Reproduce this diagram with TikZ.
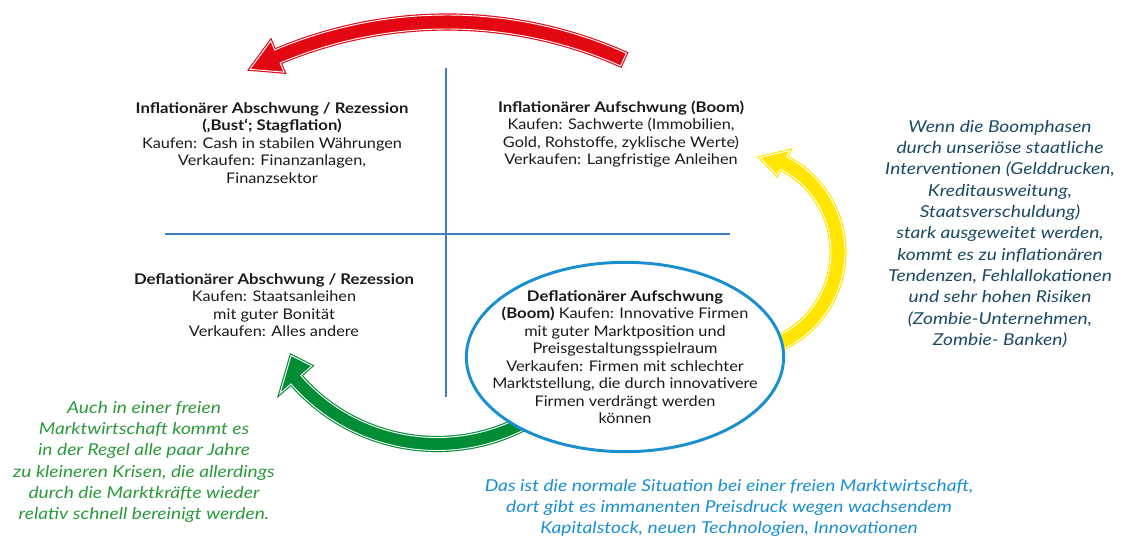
\documentclass[tikz,border=0pt]{standalone}
\usepackage{fontspec}
\setmainfont{Lato}[UprightFeatures={FakeStretch=1.11},BoldFeatures={FakeStretch=1.14},ItalicFeatures={FakeStretch=1.17}]
\usetikzlibrary{calc,shapes.geometric}
\definecolor{cRed}{HTML}{E30613}
\definecolor{cYel}{HTML}{FFE500}
\definecolor{cGrn}{HTML}{008D36}
\definecolor{cEll}{HTML}{1A8FD0}
\definecolor{cAxis}{HTML}{3F7FC1}
\definecolor{cTeal}{HTML}{1B4A64}
\definecolor{cGtxt}{HTML}{2A9A3C}
\definecolor{cBtxt}{HTML}{1A8FD3}
\definecolor{cTxt}{HTML}{1A1A1A}
\begin{document}
\begin{tikzpicture}[x=0.75pt,y=-0.75pt,
  fatarrow/.style={fill=#1,draw=#1,line width=2.4pt,line join=miter,
    postaction={draw=white,line width=0.7pt}},
  axisline/.style={draw=cAxis,line width=1.6pt},
  blk/.style={align=center,inner sep=0pt,text=cTxt,font=\fontsize{11}{13.1}\selectfont},
  note/.style={align=center,inner sep=0pt,font=\itshape\fontsize{12.3}{16}\selectfont}]
\useasboundingbox (0,0) rectangle (1124,539);
% axes
\coordinate (vtop) at (446,68);
\coordinate (vbot) at (446,397);
\coordinate (hl) at (165,234);
\coordinate (hr) at (730,234);
\draw[axisline] (vtop) -- (vbot);
\draw[axisline] (hl) -- (hr);
% centres of the curved arrows
\coordinate (rc) at (447,456);
\coordinate (yc) at (738,252);
\coordinate (gc) at (437,257);
% red arrow
\path[fatarrow=cRed] ($(rc)+(-66:441)$) arc[start angle=-66,end angle=-113,radius=441]
  -- ($(rc)+(-113:451)$) -- ($(rc)+(-117:434)$) -- ($(rc)+(-113:417)$)
  -- ($(rc)+(-113:427)$) arc[start angle=-113,end angle=-66,radius=427] -- cycle;
% yellow arrow
\path[fatarrow=cYel] ($(yc)+(68:107)$) arc[start angle=68,end angle=-63,radius=107]
  -- ($(yc)+(-63:114)$) -- ($(yc)+(-77:97)$) -- ($(yc)+(-63:86)$)
  -- ($(yc)+(-63:93)$) arc[start angle=-63,end angle=68,radius=93] -- cycle;
% green arrow
\path[fatarrow=cGrn] ($(gc)+(58:193.5)$) arc[start angle=58,end angle=139,radius=193.5]
  -- ($(gc)+(139:208)$) -- ($(gc)+(146:176)$) -- ($(gc)+(139:166)$)
  -- ($(gc)+(139:180.5)$) arc[start angle=139,end angle=58,radius=180.5] -- cycle;
% ellipse
\node[ellipse,draw=cEll,fill=white,line width=2.2pt,minimum width=238pt,minimum height=142pt,inner sep=0pt] (boom) at (625,357) {};
\node[blk] (boomtxt) at (625,357) {\textbf{Deflationärer Aufschwung}\\\textbf{(Boom)} Kaufen: Innovative Firmen\\mit guter Marktposition und\\Preisgestaltungsspielraum\\Verkaufen: Firmen mit schlechter\\Marktstellung, die durch innovativere\\Firmen verdrängt werden\\können};
% quadrant texts
\node[blk] (tl) at (272,143) {\textbf{Inflationärer Abschwung / Rezession}\\\textbf{(‚Bust‘; Stagflation)}\\Kaufen: Cash in stabilen Währungen\\Verkaufen: Finanzanlagen,\\Finanzsektor};
\node[blk] (tr) at (621,134) {\textbf{Inflationärer Aufschwung (Boom)}\\Kaufen: Sachwerte (Immobilien,\\Gold, Rohstoffe, zyklische Werte)\\Verkaufen: Langfristige Anleihen};
\node[blk] (bl) at (274,305) {\textbf{Deflationärer Abschwung / Rezession}\\Kaufen: Staatsanleihen\\mit guter Bonität\\Verkaufen: Alles andere};
% notes
\node[note,text=cTeal] (rnote) at (1000,234) {Wenn die Boomphasen\\durch unseriöse staatliche\\Interventionen (Gelddrucken,\\Kreditausweitung,\\Staatsverschuldung)\\stark ausgeweitet werden,\\kommt es zu inflationären\\Tendenzen, Fehlallokationen\\und sehr hohen Risiken\\(Zombie-Unternehmen,\\Zombie- Banken)};
\node[note,text=cGtxt] (gnote) at (144,462) {Auch in einer freien\\Marktwirtschaft kommt es\\in der Regel alle paar Jahre\\zu kleineren Krisen, die allerdings\\durch die Marktkräfte wieder\\relativ schnell bereinigt werden.};
\node[note,text=cBtxt] (bnote) at (729,508) {Das ist die normale Situation bei einer freien Marktwirtschaft,\\dort gibt es immanenten Preisdruck wegen wachsendem\\Kapitalstock, neuen Technologien, Innovationen};
\end{tikzpicture}
\end{document}
